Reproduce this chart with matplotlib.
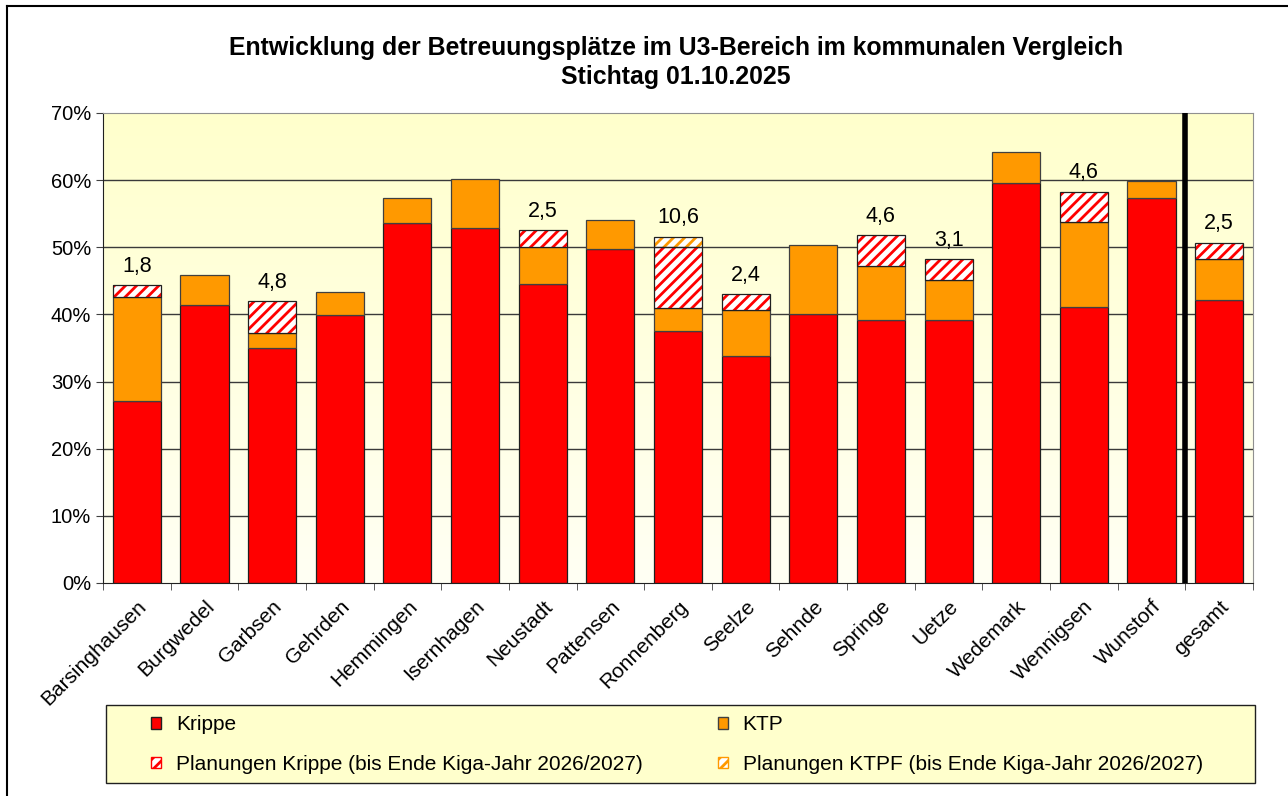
import numpy as np
import matplotlib
matplotlib.use('Agg')
import matplotlib.pyplot as plt
from matplotlib.patches import Patch, Rectangle
from matplotlib.lines import Line2D

plt.rcParams['font.family'] = ['Liberation Sans', 'DejaVu Sans']
plt.rcParams['hatch.linewidth'] = 2.0

# Daten (in %)
orte = ['Barsinghausen', 'Burgwedel', 'Garbsen', 'Gehrden', 'Hemmingen', 'Isernhagen',
        'Neustadt', 'Pattensen', 'Ronnenberg', 'Seelze', 'Sehnde', 'Springe', 'Uetze',
        'Wedemark', 'Wennigsen', 'Wunstorf', 'gesamt']
krippe = [27.1, 41.4, 35.0, 39.9, 53.6, 52.8, 44.6, 49.8, 37.6, 33.8, 40.0, 39.2, 39.1, 59.6, 41.1, 57.3, 42.1]
ktp = [15.5, 4.4, 2.2, 3.4, 3.8, 7.3, 5.4, 4.3, 3.4, 6.8, 10.3, 8.0, 6.0, 4.6, 12.6, 2.6, 6.1]
plan_krippe = [1.8, 0, 4.8, 0, 0, 0, 2.5, 0, 9.0, 2.4, 0, 4.6, 3.1, 0, 4.6, 0, 2.5]
plan_ktpf = [0, 0, 0, 0, 0, 0, 0, 0, 1.6, 0, 0, 0, 0, 0, 0, 0, 0]

RED = '#FF0000'
ORANGE = '#FF9900'

fig = plt.figure(figsize=(12.88, 7.96), dpi=100)
ax = fig.add_axes([0.080, 0.2676, 0.8928, 0.5905])

x = np.arange(len(orte))
w = 0.71
krippe = np.array(krippe)
ktp = np.array(ktp)
plan_krippe = np.array(plan_krippe)
plan_ktpf = np.array(plan_ktpf)

# Hintergrund-Verlauf
grad = np.linspace(0, 1, 256).reshape(-1, 1)
c_top = np.array(matplotlib.colors.to_rgb('#FFFFCC'))
c_bot = np.array(matplotlib.colors.to_rgb('#FFFFF4'))
img = c_bot + (c_top - c_bot) * grad
ax.imshow(img[:, None, :].repeat(2, axis=1), extent=[-0.5, 16.5, 0, 70], origin='lower',
          aspect='auto', zorder=0)

for yy in range(10, 70, 10):
    ax.axhline(yy, color='#3a3a3a', lw=1.0, zorder=1)

ax.bar(x, krippe, w, color=RED, edgecolor='#202020', lw=0.9, zorder=2)
ax.bar(x, ktp, w, bottom=krippe, color=ORANGE, edgecolor='#404040', lw=0.9, zorder=2)

b2 = krippe + ktp
m = plan_krippe > 0
ax.bar(x[m], plan_krippe[m], w, bottom=b2[m], color='white', edgecolor=RED, hatch='///', lw=0, zorder=2)
ax.bar(x[m], plan_krippe[m], w, bottom=b2[m], fill=False, edgecolor='#202020', lw=0.9, zorder=3)
b3 = b2 + plan_krippe
m2 = plan_ktpf > 0
ax.bar(x[m2], plan_ktpf[m2], w, bottom=b3[m2], color='white', edgecolor=ORANGE, hatch='///', lw=0, zorder=2)
ax.bar(x[m2], plan_ktpf[m2], w, bottom=b3[m2], fill=False, edgecolor='#202020', lw=0.9, zorder=3)

total = b3 + plan_ktpf
for i in range(len(orte)):
    p = plan_krippe[i] + plan_ktpf[i]
    if p > 0:
        ax.annotate(('%.1f' % p).replace('.', ','), (x[i], total[i]), xytext=(0, 6),
                    textcoords='offset points', ha='center', va='bottom', fontsize=15.5)

ax.axvline(15.5, color='black', lw=4, zorder=4)

ax.set_xlim(-0.5, 16.5)
ax.set_ylim(0, 70)
ax.set_yticks(range(0, 71, 10))
ax.set_yticklabels(['%d%%' % v for v in range(0, 71, 10)], fontsize=14.5)
ax.set_xticks(x)
ax.set_xticklabels(orte, rotation=45, ha='right', rotation_mode='anchor', fontsize=15)
ax.set_xticks(np.arange(-0.5, 16.6, 1), minor=True)
ax.tick_params(axis='x', which='major', length=0, pad=10)
ax.tick_params(axis='x', which='minor', length=5, color='#404040')
ax.tick_params(axis='y', length=5, color='#404040')
ax.spines['left'].set_color('#202020')
ax.spines['bottom'].set_color('#202020')
ax.spines['top'].set_color('#909090')
ax.spines['right'].set_color('#909090')

fig.text(0.525, 0.9215, 'Entwicklung der Betreuungsplätze im U3-Bereich im kommunalen Vergleich\nStichtag 01.10.2025',
         ha='center', va='center', fontsize=17.9, fontweight='bold', linespacing=1.3)

# Legende
W, H = 1288.0, 796.0
fig.add_artist(Rectangle((106 / W, 1 - 783 / H), 1149 / W, 78 / H, transform=fig.transFigure,
                         facecolor='#FFFFCC', edgecolor='#202020', lw=1.0, zorder=0))
handles = [Patch(facecolor=RED, edgecolor='#202020'),
           Patch(facecolor='white', edgecolor=RED, hatch='///'),
           Patch(facecolor=ORANGE, edgecolor='#404040'),
           Patch(facecolor='white', edgecolor=ORANGE, hatch='///')]
labels = ['Krippe', 'Planungen Krippe (bis Ende Kiga-Jahr 2026/2027)',
          'KTP', 'Planungen KTPF (bis Ende Kiga-Jahr 2026/2027)']
leg = fig.legend(handles, labels, ncol=2, loc='upper left',
                 bbox_to_anchor=(151 / W, 1 - 715 / H),
                 fontsize=15, frameon=False, handlelength=0.5,
                 handleheight=0.5, handletextpad=0.7, borderpad=0, labelspacing=1.0,
                 borderaxespad=0, columnspacing=3.6)

# Rahmen links / oben
fig.add_artist(Line2D([0.0055, 0.0055], [0, 0.9925], color='black', lw=1.5, transform=fig.transFigure))
fig.add_artist(Line2D([0.0055, 1.0], [0.9925, 0.9925], color='black', lw=1.5, transform=fig.transFigure))

fig.savefig('out.png', dpi=100)
